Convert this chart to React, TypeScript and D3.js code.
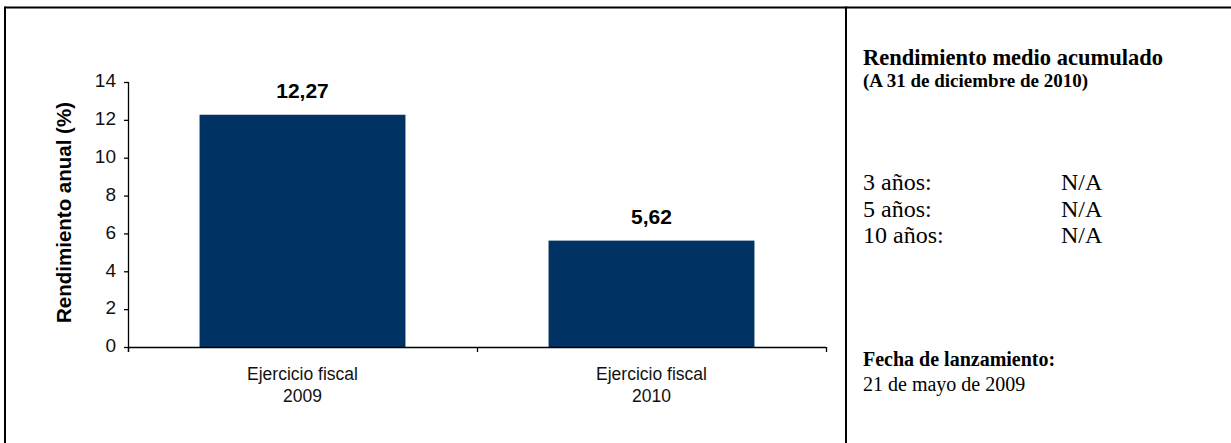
import React from "react";
import * as d3 from "d3";

const categories = ["Ejercicio fiscal|2009", "Ejercicio fiscal|2010"];
const values = [12.27, 5.62];
const valueLabels = ["12,27", "5,62"];
const yTicks = [0, 2, 4, 6, 8, 10, 12, 14];
const periodLabels = ["3 años:", "5 años:", "10 años:"];
const periodValues = ["N/A", "N/A", "N/A"];

const W = 1231;
const H = 443;

export default function App() {
  const x = d3
    .scaleBand<string>()
    .domain(categories)
    .range([128, 826])
    .paddingInner(0.41)
    .paddingOuter(0.205);
  const y = d3.scaleLinear().domain([0, 14]).range([347, 82]);
  const sans = "'Liberation Sans', Arial, sans-serif";
  const serif = "'Liberation Serif', 'Times New Roman', serif";
  const bounds = [128, 477, 826];

  return (
    <svg
      width={W}
      height={H}
      style={{ position: "absolute", left: 0, top: 0, background: "#fff" }}
    >
      <rect x={0} y={0} width={W} height={H} fill="#fff" />
      {/* frame */}
      <line x1={5} y1={7.5} x2={W} y2={7.5} stroke="#000" strokeWidth={2} />
      <line x1={5} y1={6.5} x2={5} y2={H} stroke="#000" strokeWidth={2} />
      <line x1={846} y1={6.5} x2={846} y2={H} stroke="#000" strokeWidth={2} />

      {/* bars */}
      {categories.map((c, i) => (
        <rect
          key={c}
          x={x(c)}
          y={y(values[i])}
          width={x.bandwidth()}
          height={y(0) - y(values[i])}
          fill="#003363"
        />
      ))}
      {categories.map((c, i) => (
        <text
          key={"v" + c}
          x={(x(c) as number) + x.bandwidth() / 2}
          y={y(values[i]) - 17}
          textAnchor="middle"
          fontFamily={sans}
          fontWeight="bold"
          fontSize={21}
        >
          {valueLabels[i]}
        </text>
      ))}

      {/* y axis */}
      <line x1={128.5} y1={y(14)} x2={128.5} y2={y(0) + 5} stroke="#000" strokeWidth={1.3} />
      {yTicks.map((t) => (
        <g key={t}>
          <line x1={124} x2={128.5} y1={y(t) + 0.5} y2={y(t) + 0.5} stroke="#000" strokeWidth={1.3} />
          <text
            x={116}
            y={y(t)}
            dy="0.28em"
            textAnchor="end"
            fontFamily={sans}
            fontSize={19}
            fill="#111"
          >
            {t}
          </text>
        </g>
      ))}
      <text
        transform={`translate(71,${(y(0) + y(14)) / 2 - 2}) rotate(-90)`}
        textAnchor="middle"
        fontFamily={sans}
        fontWeight="bold"
        fontSize={20.5}
      >
        Rendimiento anual (%)
      </text>

      {/* x axis */}
      <line x1={128} x2={826} y1={347.5} y2={347.5} stroke="#000" strokeWidth={1.3} />
      {bounds.map((b) => (
        <line key={b} x1={b + 0.5} x2={b + 0.5} y1={347} y2={352} stroke="#000" strokeWidth={1.3} />
      ))}
      {categories.map((c) => {
        const [l1, l2] = c.split("|");
        const cx = (x(c) as number) + x.bandwidth() / 2;
        return (
          <text key={"x" + c} textAnchor="middle" fontFamily={sans} fontSize={17.5} fill="#111">
            <tspan x={cx} y={380}>{l1}</tspan>
            <tspan x={cx} y={402}>{l2}</tspan>
          </text>
        );
      })}

      {/* right panel */}
      <text x={863} y={65} fontFamily={serif} fontWeight="bold" fontSize={22.5}>
        Rendimiento medio acumulado
      </text>
      <text x={863} y={87} fontFamily={serif} fontWeight="bold" fontSize={19}>
        (A 31 de diciembre de 2010)
      </text>
      {periodLabels.map((p, i) => (
        <g key={p}>
          <text x={863} y={190 + i * 26.5} fontFamily={serif} fontSize={24}>
            {p}
          </text>
          <text x={1061} y={190 + i * 26.5} fontFamily={serif} fontSize={24}>
            {periodValues[i]}
          </text>
        </g>
      ))}
      <text x={863} y={366} fontFamily={serif} fontWeight="bold" fontSize={20}>
        Fecha de lanzamiento:
      </text>
      <text x={863} y={391} fontFamily={serif} fontSize={20}>
        21 de mayo de 2009
      </text>
    </svg>
  );
}
